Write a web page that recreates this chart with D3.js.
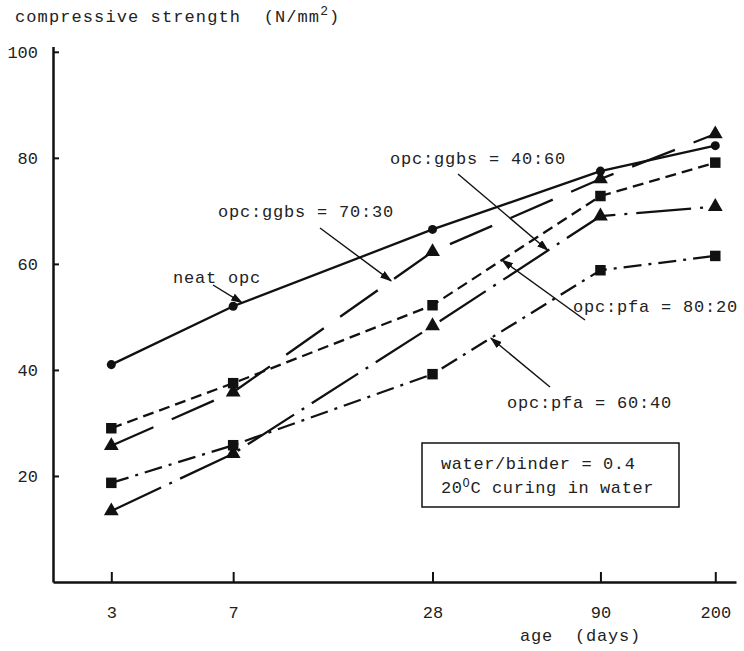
<!DOCTYPE html>
<html>
<head>
<meta charset="utf-8">
<script src="https://cdn.jsdelivr.net/npm/d3@7"></script>
<style>
  body { margin: 0; background: #fff; }
  text { font-family: "Liberation Mono", "DejaVu Sans Mono", monospace; fill: #222; }
</style>
</head>
<body>
<script>
// ages in days (log axis) and strengths in N/mm2
var ages = [3, 7, 28, 90, 200];
var neatOpc   = [41.0, 52.0, 66.5, 77.5, 82.3];
var ggbs7030  = [25.7, 35.8, 62.3, 76.0, 84.5];
var ggbs4060  = [13.4, 24.2, 48.3, 69.0, 70.8];
var pfa8020   = [29.0, 37.5, 52.2, 72.8, 79.1];
var pfa6040   = [18.7, 25.8, 39.2, 58.8, 61.5];
var yTicks = [20, 40, 60, 80, 100];

var w = 744, h = 651;

var svg = d3.select("body").append("svg")
    .attr("width", w)
    .attr("height", h);

var x = d3.scaleLog().domain([2, 231]).range([53, 736]);
var y = d3.scaleLinear().domain([0, 101]).range([582, 46.5]);

var series = [
  {name: "neat opc",         vals: neatOpc,  sym: "circle",   dash: null},
  {name: "opc:ggbs = 70:30", vals: ggbs7030, sym: "triangle", dash: "46,20"},
  {name: "opc:ggbs = 40:60", vals: ggbs4060, sym: "triangle", dash: "55,9,3,9"},
  {name: "opc:pfa = 80:20",  vals: pfa8020,  sym: "square",   dash: "11,6"},
  {name: "opc:pfa = 60:40",  vals: pfa6040,  sym: "square",   dash: "18,7,3,7"}
];

// arrowhead for the leader lines
svg.append("defs").append("marker")
    .attr("id", "arrow")
    .attr("markerUnits", "userSpaceOnUse")
    .attr("markerWidth", 12).attr("markerHeight", 8)
    .attr("refX", 11).attr("refY", 4)
    .attr("orient", "auto")
  .append("path")
    .attr("d", "M0,0 L12,4 L0,8 Z")
    .attr("fill", "#111");

// axes
var yAxis = d3.axisLeft(y)
    .tickValues(yTicks)
    .tickSizeInner(-6)
    .tickSizeOuter(0)
    .tickPadding(15)
    .tickFormat(d3.format("d"));

var xAxis = d3.axisBottom(x)
    .tickValues(ages)
    .tickSizeInner(-10)
    .tickSizeOuter(0)
    .tickPadding(24)
    .tickFormat(d => d);

var gy = svg.append("g").attr("transform", "translate(53,0)").call(yAxis);
var gx = svg.append("g").attr("transform", "translate(0,582)").call(xAxis);

[gx, gy].forEach(function(g) {
  g.select(".domain").attr("stroke", "#111").attr("stroke-width", 2.5);
  g.selectAll(".tick line").attr("stroke", "#111").attr("stroke-width", 2);
  g.selectAll(".tick text")
    .style("font-family", "Liberation Mono, monospace")
    .style("font-size", "17px")
    .attr("fill", "#333");
});

// lines
var line = d3.line()
    .x(d => x(d[0]))
    .y(d => y(d[1]));

series.forEach(function(s) {
  var pts = ages.map((a, i) => [a, s.vals[i]]);
  svg.append("path")
      .datum(pts)
      .attr("d", line)
      .attr("fill", "none")
      .attr("stroke", "#111")
      .attr("stroke-width", 2.3)
      .attr("stroke-dasharray", s.dash);

  var symType = s.sym == "circle" ? d3.symbolCircle : (s.sym == "square" ? d3.symbolSquare : d3.symbolTriangle);
  var symSize = s.sym == "circle" ? 64 : (s.sym == "square" ? 110 : 95);
  svg.selectAll(null)
      .data(pts)
      .enter()
      .append("path")
      .attr("transform", d => "translate(" + x(d[0]) + "," + y(d[1]) + ")")
      .attr("d", d3.symbol().type(symType).size(symSize))
      .attr("fill", "#111");
});

// value of a series at any age, interpolated on the log axis
function valueAt(s, age) {
  for (var i = 0; i < ages.length - 1; i++) {
    if (age <= ages[i + 1]) {
      var t = Math.log(age / ages[i]) / Math.log(ages[i + 1] / ages[i]);
      return s.vals[i] + t * (s.vals[i + 1] - s.vals[i]);
    }
  }
  return s.vals[ages.length - 1];
}

// annotations: text position, leader start, and age where the arrow hits the line
var notes = [
  {s: 0, tx: 173, ty: 283, x0: 213, y0: 285, age: 7.45},
  {s: 1, tx: 218, ty: 217, x0: 320, y0: 228, age: 21},
  {s: 2, tx: 390, ty: 164, x0: 458, y0: 174, age: 62.5},
  {s: 3, tx: 573, ty: 312, x0: 585, y0: 320, age: 45.4},
  {s: 4, tx: 507, ty: 408, x0: 550, y0: 387, age: 42}
];

notes.forEach(function(n) {
  var s = series[n.s];
  svg.append("line")
      .attr("x1", n.x0).attr("y1", n.y0)
      .attr("x2", x(n.age)).attr("y2", y(valueAt(s, n.age)))
      .attr("stroke", "#111")
      .attr("stroke-width", 1.4)
      .attr("marker-end", "url(#arrow)");
  svg.append("text")
      .attr("x", n.tx).attr("y", n.ty)
      .style("font-size", "17px")
      .style("letter-spacing", "0.8px")
      .text(s.name);
});

// axis titles
var yt = svg.append("text")
    .attr("x", 15).attr("y", 22)
    .style("font-size", "17px")
    .style("letter-spacing", "1.1px")
    .attr("xml:space", "preserve");
yt.append("tspan").text("compressive strength  (N/mm");
yt.append("tspan").attr("dy", -7).style("font-size", "13px").text("2");
yt.append("tspan").attr("dy", 7).text(")");

svg.append("text")
    .attr("x", 520).attr("y", 641)
    .style("font-size", "17px")
    .style("letter-spacing", "0.8px")
    .attr("xml:space", "preserve")
    .text("age  (days)");

// condition box
svg.append("rect")
    .attr("x", 422).attr("y", 443)
    .attr("width", 257).attr("height", 64)
    .attr("fill", "none")
    .attr("stroke", "#111")
    .attr("stroke-width", 1.5);

svg.append("text")
    .attr("x", 441).attr("y", 469)
    .style("font-size", "17px")
    .style("letter-spacing", "0.6px")
    .text("water/binder = 0.4");

var t2 = svg.append("text")
    .attr("x", 441).attr("y", 493)
    .style("font-size", "17px")
    .style("letter-spacing", "0.6px");
t2.append("tspan").text("20");
t2.append("tspan").attr("dy", -6).style("font-size", "12px").text("O");
t2.append("tspan").attr("dy", 6).text("C curing in water");
</script>
</body>
</html>
